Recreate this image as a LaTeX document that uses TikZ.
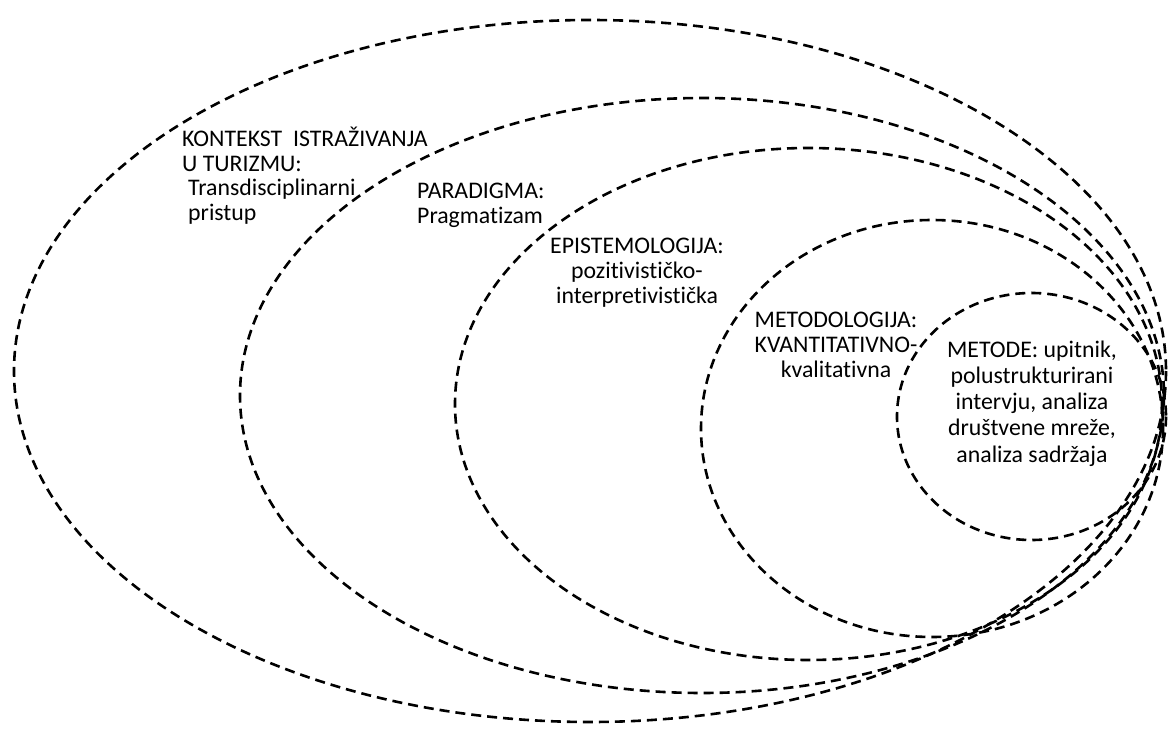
\documentclass[tikz,border=0pt]{standalone}
\usepackage{fontspec}
\setmainfont{Carlito}[Ligatures={NoCommon,NoContextual}]
\begin{document}
\begin{tikzpicture}[x=1pt,y=-1pt,
    oval/.style={line width=2.6pt, dash pattern=on 10pt off 6pt},
    txt/.style={inner sep=0pt, font=\fontsize{23.8}{25}\selectfont}]
    \useasboundingbox (0,0) rectangle (1168,733);

    % Ovali
    \draw[oval] (590,371) ellipse[x radius=576, y radius=351];
    \draw[oval] (702,395.5) ellipse[x radius=462, y radius=297.5];
    \draw[oval] (808.5,404) ellipse[x radius=353.5, y radius=256];
    \draw[oval] (932,428.5) ellipse[x radius=231, y radius=208.5];
    \draw[oval] (1031.5,416.5) ellipse[x radius=134.5, y radius=123.5];

    % Tekst (sidro = osnovna linija zadnjeg retka)
    \node[txt, align=left, anchor=base west] (kontekst) at (182,221)
        {KONTEKST\ \ ISTRAŽIVANJA\\U TURIZMU:\\\hspace{6pt}Transdisciplinarni\\\hspace{6pt}pristup};
    \node[txt, align=left, anchor=base west] (paradigma) at (417,223)
        {PARADIGMA:\\Pragmatizam};
    \node[txt, align=center, anchor=base] (epistemologija) at (637,303)
        {EPISTEMOLOGIJA:\\pozitivističko-\\interpretivistička};
    \node[txt, align=center, anchor=base] (metodologija) at (836,377)
        {METODOLOGIJA:\\KVANTITATIVNO-\\kvalitativna};
    \node[txt, align=center, anchor=base, font=\fontsize{23.8}{26.2}\selectfont] (metode) at (1032,462)
        {METODE: upitnik,\\polustrukturirani\\intervju, analiza\\društvene mreže,\\analiza sadržaja};
\end{tikzpicture}
\end{document}
